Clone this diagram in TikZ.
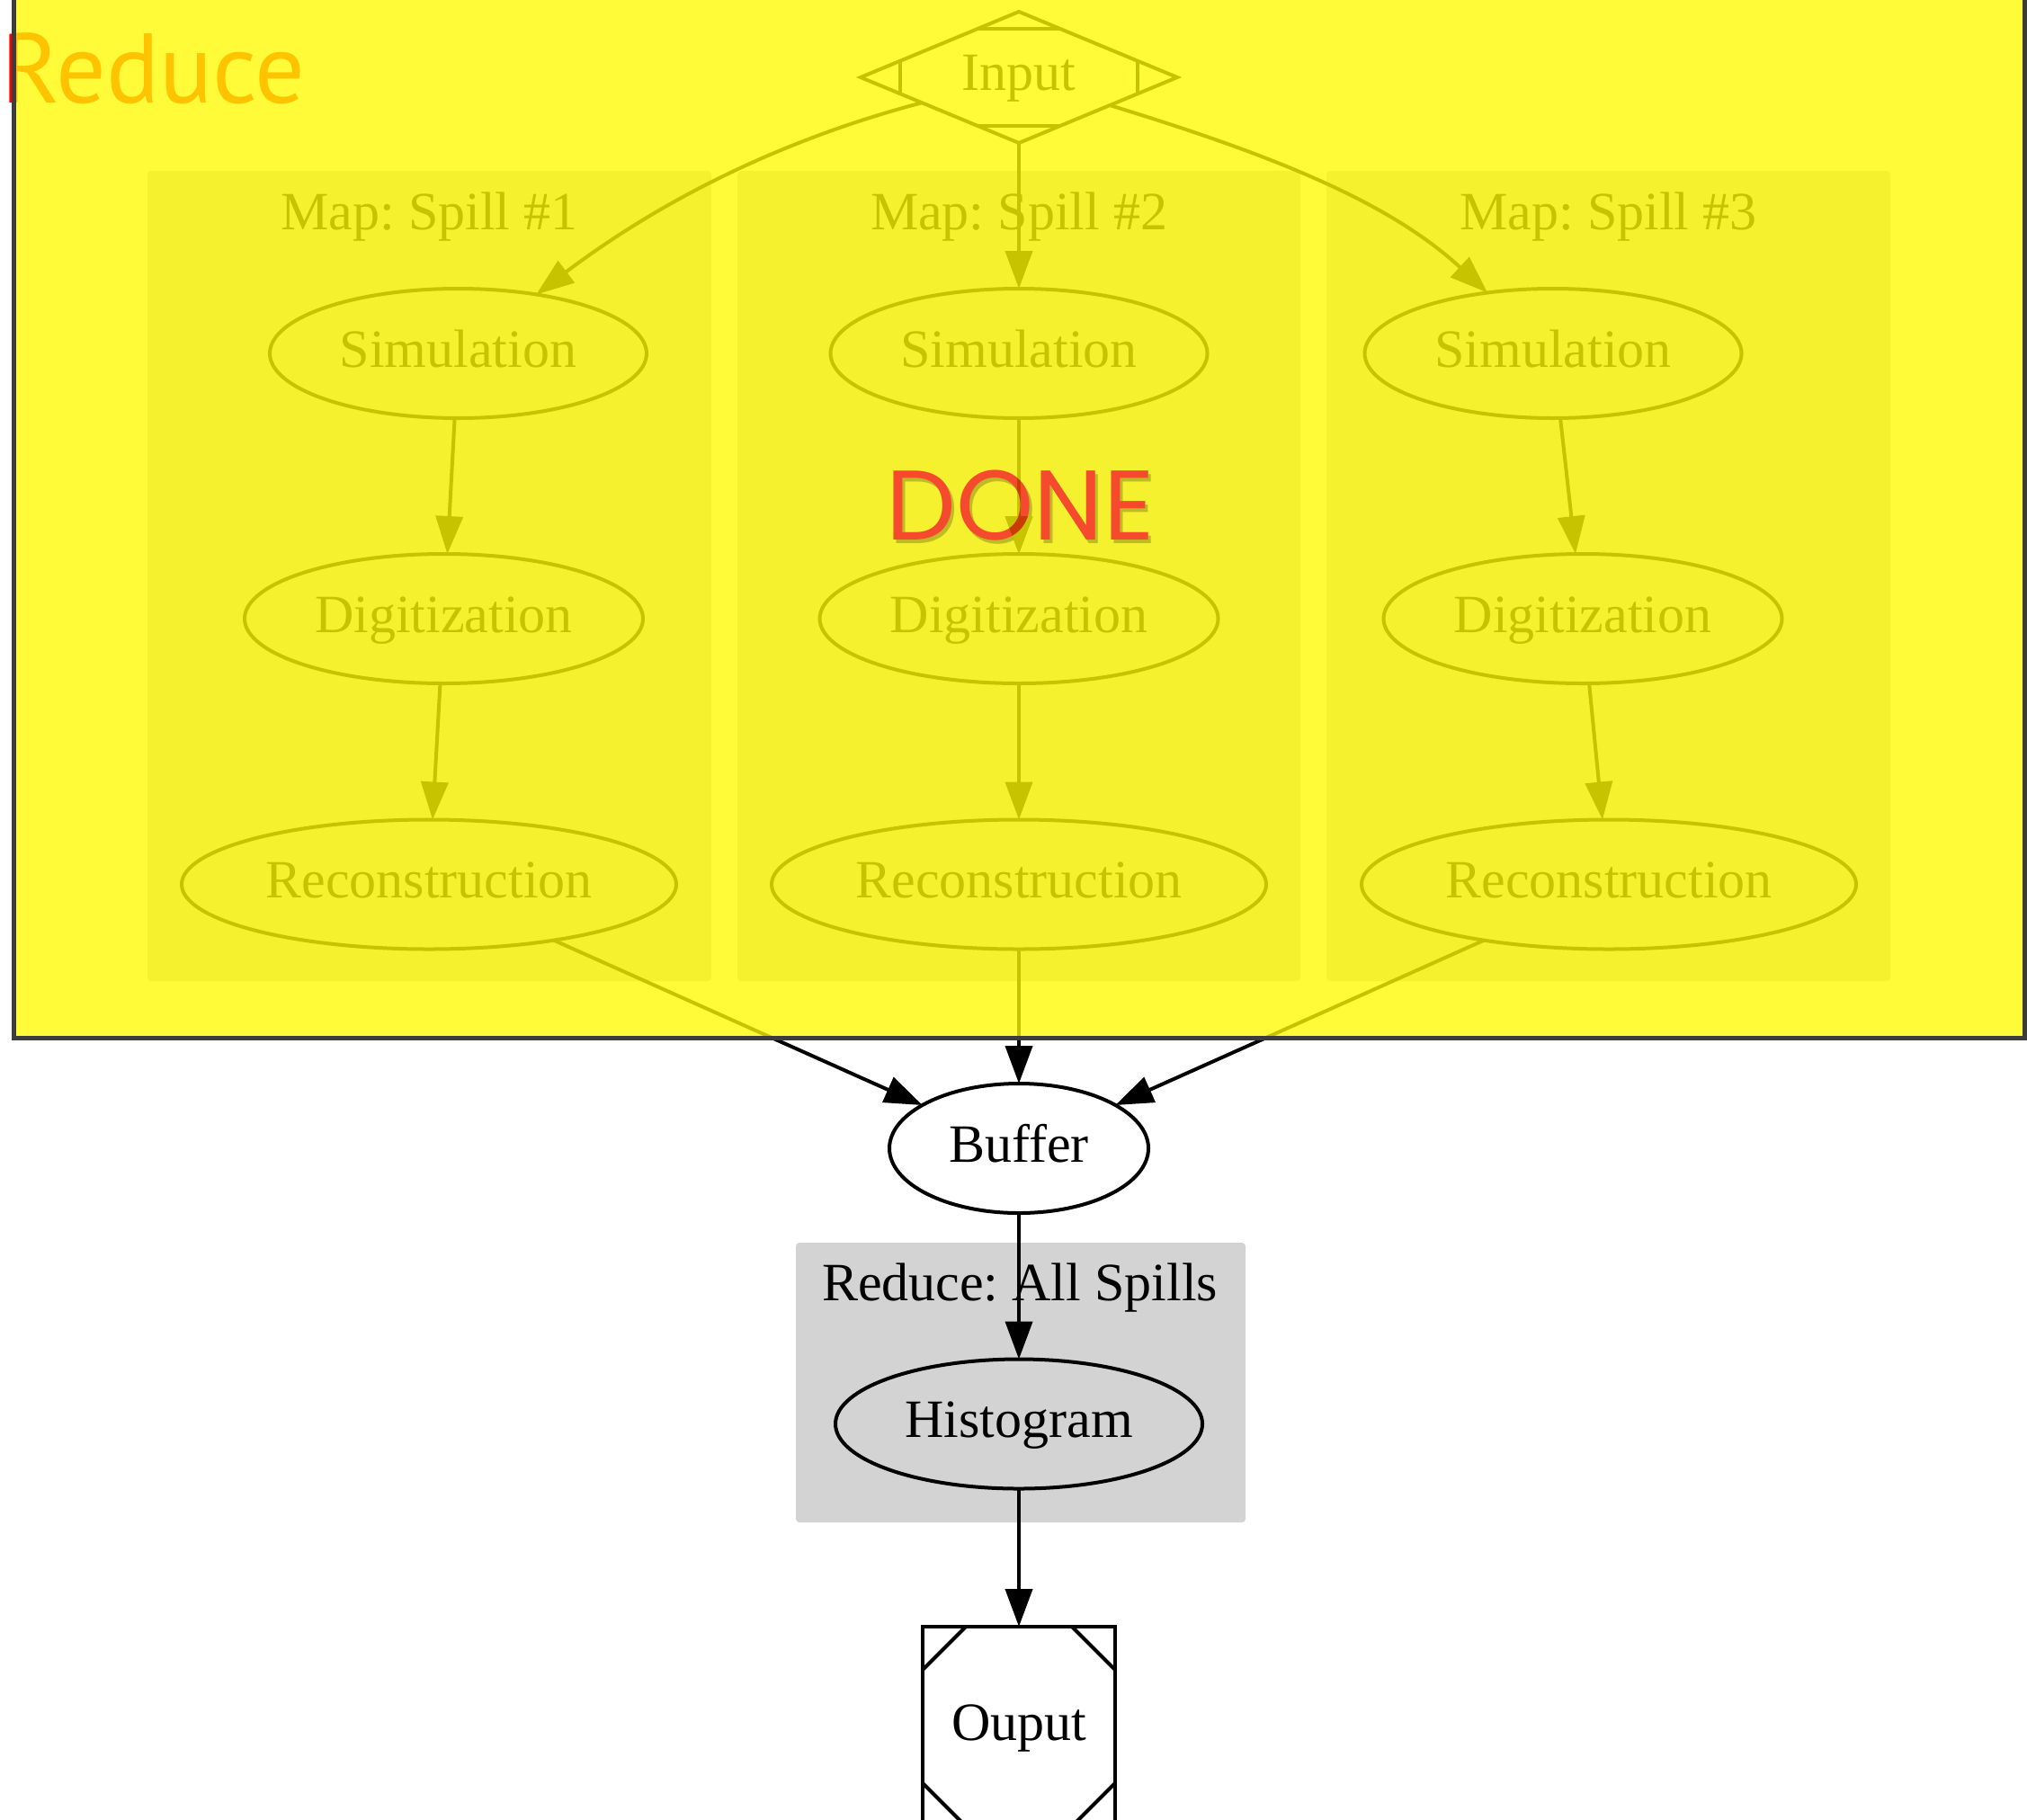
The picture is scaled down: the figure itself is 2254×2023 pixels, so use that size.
\documentclass[tikz,border=0pt]{standalone}
\usepackage{fontspec}
\setmainfont{Liberation Serif}
\newfontfamily\tagfont{PT Sans}
\newfontfamily\stampfont{Poppins}
\usetikzlibrary{arrows.meta,shapes.geometric,calc}
\frenchspacing

\definecolor{clustergray}{RGB}{211,211,211}
\definecolor{veil}{RGB}{255,250,0}
\definecolor{veiledge}{RGB}{60,60,60}
\definecolor{veilgray}{RGB}{245,241,46}   % light gray seen through the veil
\definecolor{veilink}{RGB}{199,195,0}     % black seen through the veil
\definecolor{tagred}{RGB}{255,0,0}
\definecolor{stampmix}{RGB}{255,79,255}   % multiplied onto the veiled cluster

\tikzset{
  every node/.style={inner sep=0pt, outer sep=0pt},
  gvfont/.style={font=\fontsize{15pt}{18pt}\selectfont},
  gvnode/.style={gvfont, text height=10.5pt, text depth=3pt, draw, line width=1pt},
  proc/.style={gvnode, ellipse, minimum height=36pt},
  cut/.style={line width=1pt},
  clusterbox/.style={fill=clustergray, rounded corners=1pt},
  clusterlabel/.style={gvfont, anchor=base},
  flow/.style={line width=1pt, -{Triangle[length=10.5pt,width=7.5pt]}},
  stamp/.style={font=\stampfont\fontsize{27.5pt}{32pt}\selectfont, anchor=base},
}

\begin{document}
\begin{tikzpicture}[x=0.25pt, y=-0.25pt]
\useasboundingbox (0,0) rectangle (2254,2023);

% ---- cluster backgrounds
\fill[clusterbox] (164,190) rectangle (791,1091);
\fill[clusterbox] (820,190) rectangle (1446,1091);
\fill[clusterbox] (1475,190) rectangle (2102,1091);
\fill[clusterbox] (885,1382) rectangle (1385,1693);
\node[clusterlabel] (lab1) at (477.5,255) {Map: Spill \#1};
\node[clusterlabel] (lab2) at (1133,255) {Map: Spill \#2};
\node[clusterlabel] (lab3) at (1788.5,255) {Map: Spill \#3};
\node[clusterlabel] (labr) at (1134,1446) {Reduce: All Spills};

% ---- nodes
\node[gvnode, diamond, aspect=2.4, minimum width=88pt, minimum height=36.5pt] (inp) at (1133,86) {Input};
\draw[cut] ($(inp.north)!0.257!(inp.west)$) -- ($(inp.north)!0.257!(inp.east)$);
\draw[cut] ($(inp.south)!0.257!(inp.west)$) -- ($(inp.south)!0.257!(inp.east)$);
\draw[cut] ($(inp.west)!0.25!(inp.north)$) -- ($(inp.west)!0.25!(inp.south)$);
\draw[cut] ($(inp.east)!0.25!(inp.north)$) -- ($(inp.east)!0.25!(inp.south)$);

\node[proc, minimum width=104.75pt] (sim1) at (509.5,393) {Simulation};
\node[proc, minimum width=104.75pt] (sim2) at (1133,393) {Simulation};
\node[proc, minimum width=104.75pt] (sim3) at (1727,393) {Simulation};
\node[proc, minimum width=110.75pt] (dig1) at (493.5,688) {Digitization};
\node[proc, minimum width=110.75pt] (dig2) at (1133,688) {Digitization};
\node[proc, minimum width=110.75pt] (dig3) at (1760,688) {Digitization};
\node[proc, minimum width=137.5pt] (rec1) at (477,983.5) {Reconstruction};
\node[proc, minimum width=137.5pt] (rec2) at (1133,983.5) {Reconstruction};
\node[proc, minimum width=137.5pt] (rec3) at (1789,983.5) {Reconstruction};
\node[proc, minimum width=72pt] (buf) at (1133,1277) {Buffer};
\node[proc, minimum width=102pt] (hist) at (1133,1583.5) {Histogram};

\node[gvnode, rectangle, minimum width=53.5pt, minimum height=55.5pt] (out) at (1133,1920) {Ouput};
\draw[cut] ($(out.north west)+(0,-12pt)$) -- ($(out.north west)+(12pt,0)$);
\draw[cut] ($(out.north east)+(0,-12pt)$) -- ($(out.north east)+(-12pt,0)$);
\draw[cut] ($(out.south west)+(0,12pt)$) -- ($(out.south west)+(12pt,0)$);
\draw[cut] ($(out.south east)+(0,12pt)$) -- ($(out.south east)+(-12pt,0)$);

% ---- edges
\draw[flow] (inp) .. controls (881,152) and (744,216) .. (sim1);
\draw[flow] (inp) -- (sim2);
\draw[flow] (inp) .. controls (1400,168) and (1540,220) .. (sim3);
\draw[flow] (sim1) -- (dig1);
\draw[flow] (sim2) -- (dig2);
\draw[flow] (sim3) -- (dig3);
\draw[flow] (dig1) -- (rec1);
\draw[flow] (dig2) -- (rec2);
\draw[flow] (dig3) -- (rec3);
\draw[flow] (rec1) -- (buf);
\draw[flow] (rec2) -- (buf);
\draw[flow] (rec3) -- (buf);
\draw[flow] (buf) -- (hist);
\draw[flow] (hist) -- (out);

% ---- stage label, then the translucent veil over the finished stage
\node[font=\tagfont\fontsize{27.5pt}{32pt}\selectfont, text=tagred, anchor=base west] (tag) at (2,115) {Reduce};
\fill[veil, opacity=0.78] (15,-40) rectangle (2251,1154);
\draw[veiledge, line width=1.25pt] (15,-40) rectangle (2251,1154);

% ---- status stamp with a drop shadow
\node[stamp, text=black, opacity=0.22] (shade) at (1137.5,604) {DONE};
\node[stamp, text=veilgray] (knock) at (1134.5,600) {DONE};
\draw[flow, veilink] (sim2) -- (dig2);
\begin{scope}[blend mode=multiply]
  \node[stamp, text=stampmix] (done) at (1134.5,600) {DONE};
\end{scope}
\end{tikzpicture}
\end{document}
